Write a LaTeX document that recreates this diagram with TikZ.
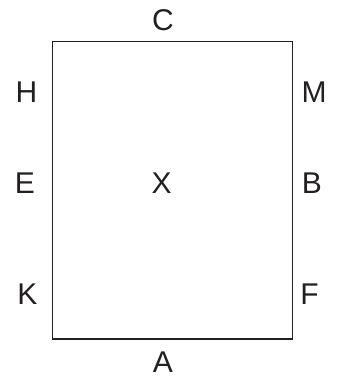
\documentclass[tikz,border=0pt]{standalone}
\usepackage{fontspec}
\setmainfont{Liberation Sans}
\usetikzlibrary{positioning}
\definecolor{edge}{HTML}{231F20}

\begin{document}
\begin{tikzpicture}[x=1pt, y=-1pt,
          every node/.style={font=\fontsize{30}{36}\selectfont, text=edge},
          box/.style={draw=edge, line width=1.1pt, minimum width=240.4pt,
                      minimum height=297.3pt, inner sep=0pt},
          lbl/.style={inner sep=0pt}
      ]
        \useasboundingbox (0,0) rectangle (341,378);

        \node[box] (frame) at (172.5, 190.3) {};

        % top and bottom
        \node[lbl] (C) at (163, 20) {C};
        \node[lbl] (A) at (163, 362.5) {A};

        % left side
        \node[lbl] (H) at (26.5, 92.5) {H};
        \node[lbl] (E) at (25, 183.3) {E};
        \node[lbl] (K) at (27.5, 294) {K};

        % right side
        \node[lbl] (M) at (314, 92.5) {M};
        \node[lbl] (B) at (312, 183.3) {B};
        \node[lbl] (F) at (309.5, 294) {F};

        \node[lbl] (X) at (161.7, 183.3) {X};
      \end{tikzpicture}
\end{document}
